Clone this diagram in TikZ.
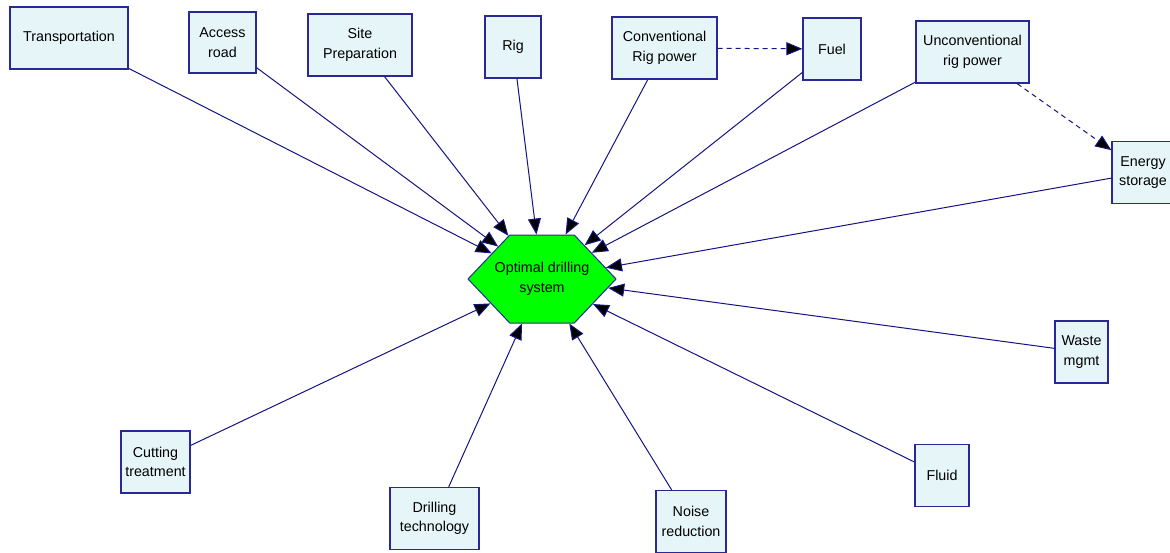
\documentclass[tikz,border=0pt]{standalone}
\usepackage{fontspec}
\setmainfont{Liberation Sans}
\usetikzlibrary{arrows.meta,shapes.symbols}
\definecolor{boxfill}{RGB}{230,246,248}
\definecolor{boxline}{RGB}{40,40,150}
\definecolor{navyline}{RGB}{20,20,130}
\definecolor{hexgreen}{RGB}{0,255,0}

\begin{document}
\begin{tikzpicture}[x=1pt, y=-1pt,
		factor/.style={draw=boxline, line width=1.3pt, fill=boxfill, minimum height=62pt, inner sep=1pt, align=center, font=\fontsize{14.3}{19.5}\selectfont},
		goal/.style={signal, signal to=east and west, signal pointer angle=93, draw=boxline, line width=1pt, fill=hexgreen, minimum width=148pt, minimum height=88pt, inner sep=0pt},
		goaltext/.style={align=center, font=\fontsize{14.3}{19.5}\selectfont},
		infl/.style={-{Triangle[length=16pt,width=13pt]}, draw=navyline, line width=1pt}]
	\useasboundingbox (0,0) rectangle (1170,552);
	\node[goal, label={[goaltext]center:Optimal drilling\\system}] (ods) at (542,279) {};
	\node[factor, minimum width=118pt] (transp) at (69,38) {Transportation};
	\node[factor, minimum width=67pt, minimum height=61pt] (access) at (222.5,42.5) {Access\\road};
	\node[factor, minimum width=104pt] (sitep) at (360,45) {Site\\Preparation};
	\node[factor, minimum width=56pt] (rig) at (513,47) {Rig};
	\node[factor, minimum width=105pt] (convp) at (664.5,48) {Conventional\\Rig power};
	\node[factor, minimum width=58pt] (fuel) at (832,49) {Fuel};
	\node[factor, minimum width=113pt] (unconvp) at (972.5,52) {Unconventional\\rig power};
	\node[factor, minimum width=62pt] (enstor) at (1143,172.5) {Energy\\storage};
	\node[factor, minimum width=53pt] (waste) at (1081.5,352) {Waste\\mgmt};
	\node[factor, minimum width=54pt] (fluid) at (942,475.5) {Fluid};
	\node[factor, minimum width=70pt] (noise) at (691,521.5) {Noise\\reduction};
	\node[factor, minimum width=89pt] (drillt) at (434.5,518.5) {Drilling\\technology};
	\node[factor, minimum width=69pt] (cutt) at (155.5,462) {Cutting\\treatment};
	\path[infl]
	(transp) edge (ods)
	(access) edge (ods)
	(sitep) edge (ods)
	(rig) edge (ods)
	(convp) edge (ods)
	edge [dash pattern=on 5pt off 4pt] (fuel)
	(fuel) edge (ods)
	(unconvp) edge (ods)
	edge [dash pattern=on 5pt off 4pt] (enstor)
	(enstor) edge (ods)
	(waste) edge (ods)
	(fluid) edge (ods)
	(noise) edge (ods)
	(drillt) edge (ods)
	(cutt) edge (ods);
\end{tikzpicture}
\end{document}
